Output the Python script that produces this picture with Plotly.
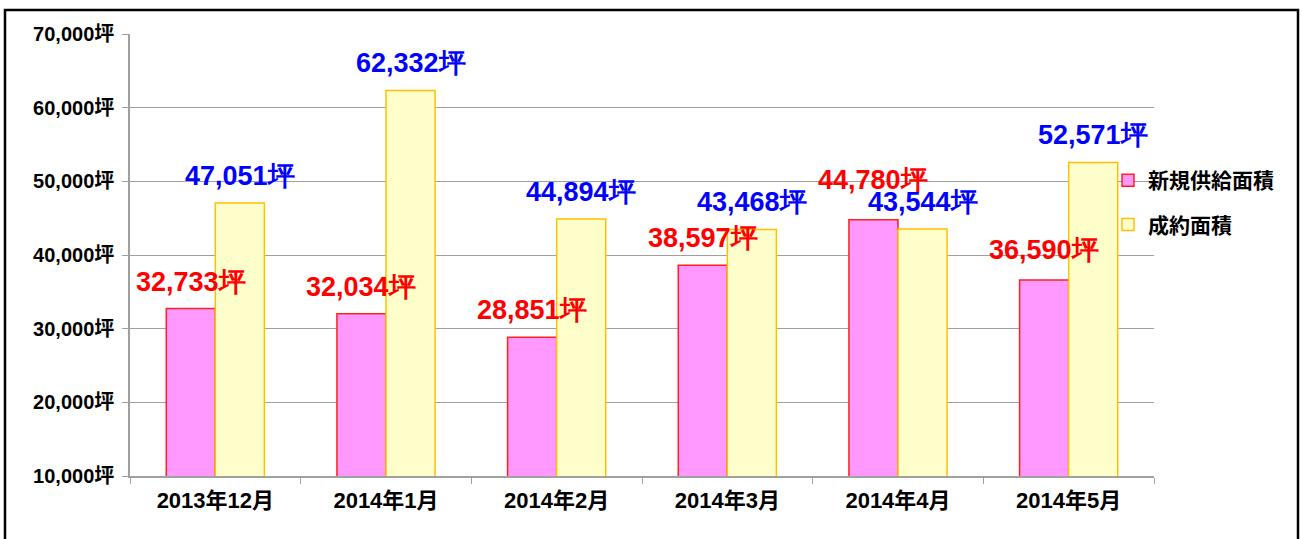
import plotly.graph_objects as go

categories = ["2013年12月", "2014年1月", "2014年2月", "2014年3月", "2014年4月", "2014年5月"]
supply = [32733, 32034, 28851, 38597, 44780, 36590]
contract = [47051, 62332, 44894, 43468, 43544, 52571]
series_names = ["新規供給面積", "成約面積"]
y_ticks = [10000, 20000, 30000, 40000, 50000, 60000, 70000]
y_tick_text = [f"{v:,}坪" for v in y_ticks]

# extra vertical nudge for labels (px), per category, to mirror manual placement
supply_label_nudge = [0, 0, 0, 0, 13, 3]
contract_label_nudge = [0, 0, 0, 0, 0, 0]

L, R, T, B = 130, 148, 34, 63
W, H = 1302, 539
pw, ph = W - L - R, H - T - B

fig = go.Figure()
fig.add_trace(go.Bar(
    x=categories, y=supply, name=series_names[0], legendgroup="a",
    marker=dict(color="#FF99FF", line=dict(color="#FF2020", width=1.5)),
))
fig.add_trace(go.Bar(
    x=categories, y=contract, name=series_names[1], legendgroup="b",
    marker=dict(color="#FFFFCC", line=dict(color="#FFC000", width=1.5)),
))

label_font = dict(family="Liberation Sans, Arial, sans-serif", size=27)
bar_px = pw / len(categories) * (1 - 0.425) / 2
for i, c in enumerate(categories):
    fig.add_annotation(x=c, y=supply[i], text=f"<b>{supply[i]:,}坪</b>", showarrow=False,
                       xshift=-bar_px / 2, yshift=27 + supply_label_nudge[i],
                       font=dict(color="#FF0000", **label_font))
    fig.add_annotation(x=c, y=contract[i], text=f"<b>{contract[i]:,}坪</b>", showarrow=False,
                       xshift=bar_px / 2, yshift=27 + contract_label_nudge[i],
                       font=dict(color="#0000FF", **label_font))

# outer chart border
fig.add_shape(type="rect", xref="paper", yref="paper",
              x0=(5 - L) / pw, x1=(1298 - L) / pw,
              y0=(T + ph - 545) / ph, y1=(T + ph - 10) / ph,
              line=dict(color="black", width=2.5), fillcolor="rgba(0,0,0,0)", layer="below")

x_tick_font = dict(family="Liberation Sans, Noto Sans CJK JP, sans-serif", size=22, color="black", weight="bold")
y_tick_font = dict(family="Liberation Sans, Noto Sans CJK JP, sans-serif", size=20, color="black", weight="bold")

fig.update_layout(
    width=W, height=H,
    margin=dict(l=L, r=R, t=T, b=B),
    paper_bgcolor="white", plot_bgcolor="white",
    barmode="group", bargap=0.425, bargroupgap=0,
    showlegend=True,
    legend=dict(x=(1108 - L) / pw, xanchor="left", y=(T + ph - 160) / ph, yanchor="top",
                bgcolor="rgba(0,0,0,0)", tracegroupgap=14,
                font=dict(family="Noto Sans CJK JP", size=21, color="black", weight="bold")),
    font=dict(family="Liberation Sans, Arial, sans-serif", color="black"),
    xaxis=dict(
        type="category", showline=True, linecolor="#A0A0A0", linewidth=1.5,
        ticks="outside", tickson="boundaries", ticklen=6, tickcolor="#A0A0A0",
        tickfont=x_tick_font, showgrid=False, ticklabelstandoff=4,
    ),
    yaxis=dict(
        range=[10000, 70000], tickmode="array", tickvals=y_ticks, ticktext=y_tick_text,
        showline=True, linecolor="#A0A0A0", linewidth=1.5,
        ticks="outside", ticklen=6, tickcolor="#A0A0A0",
        showgrid=True, gridcolor="#A0A0A0", gridwidth=1.2,
        tickfont=y_tick_font, zeroline=False, ticklabelstandoff=4,
    ),
)

fig.write_html("out.html", config={"displayModeBar": False},
               post_script="document.body.style.margin='0';document.body.style.overflow='hidden';")
